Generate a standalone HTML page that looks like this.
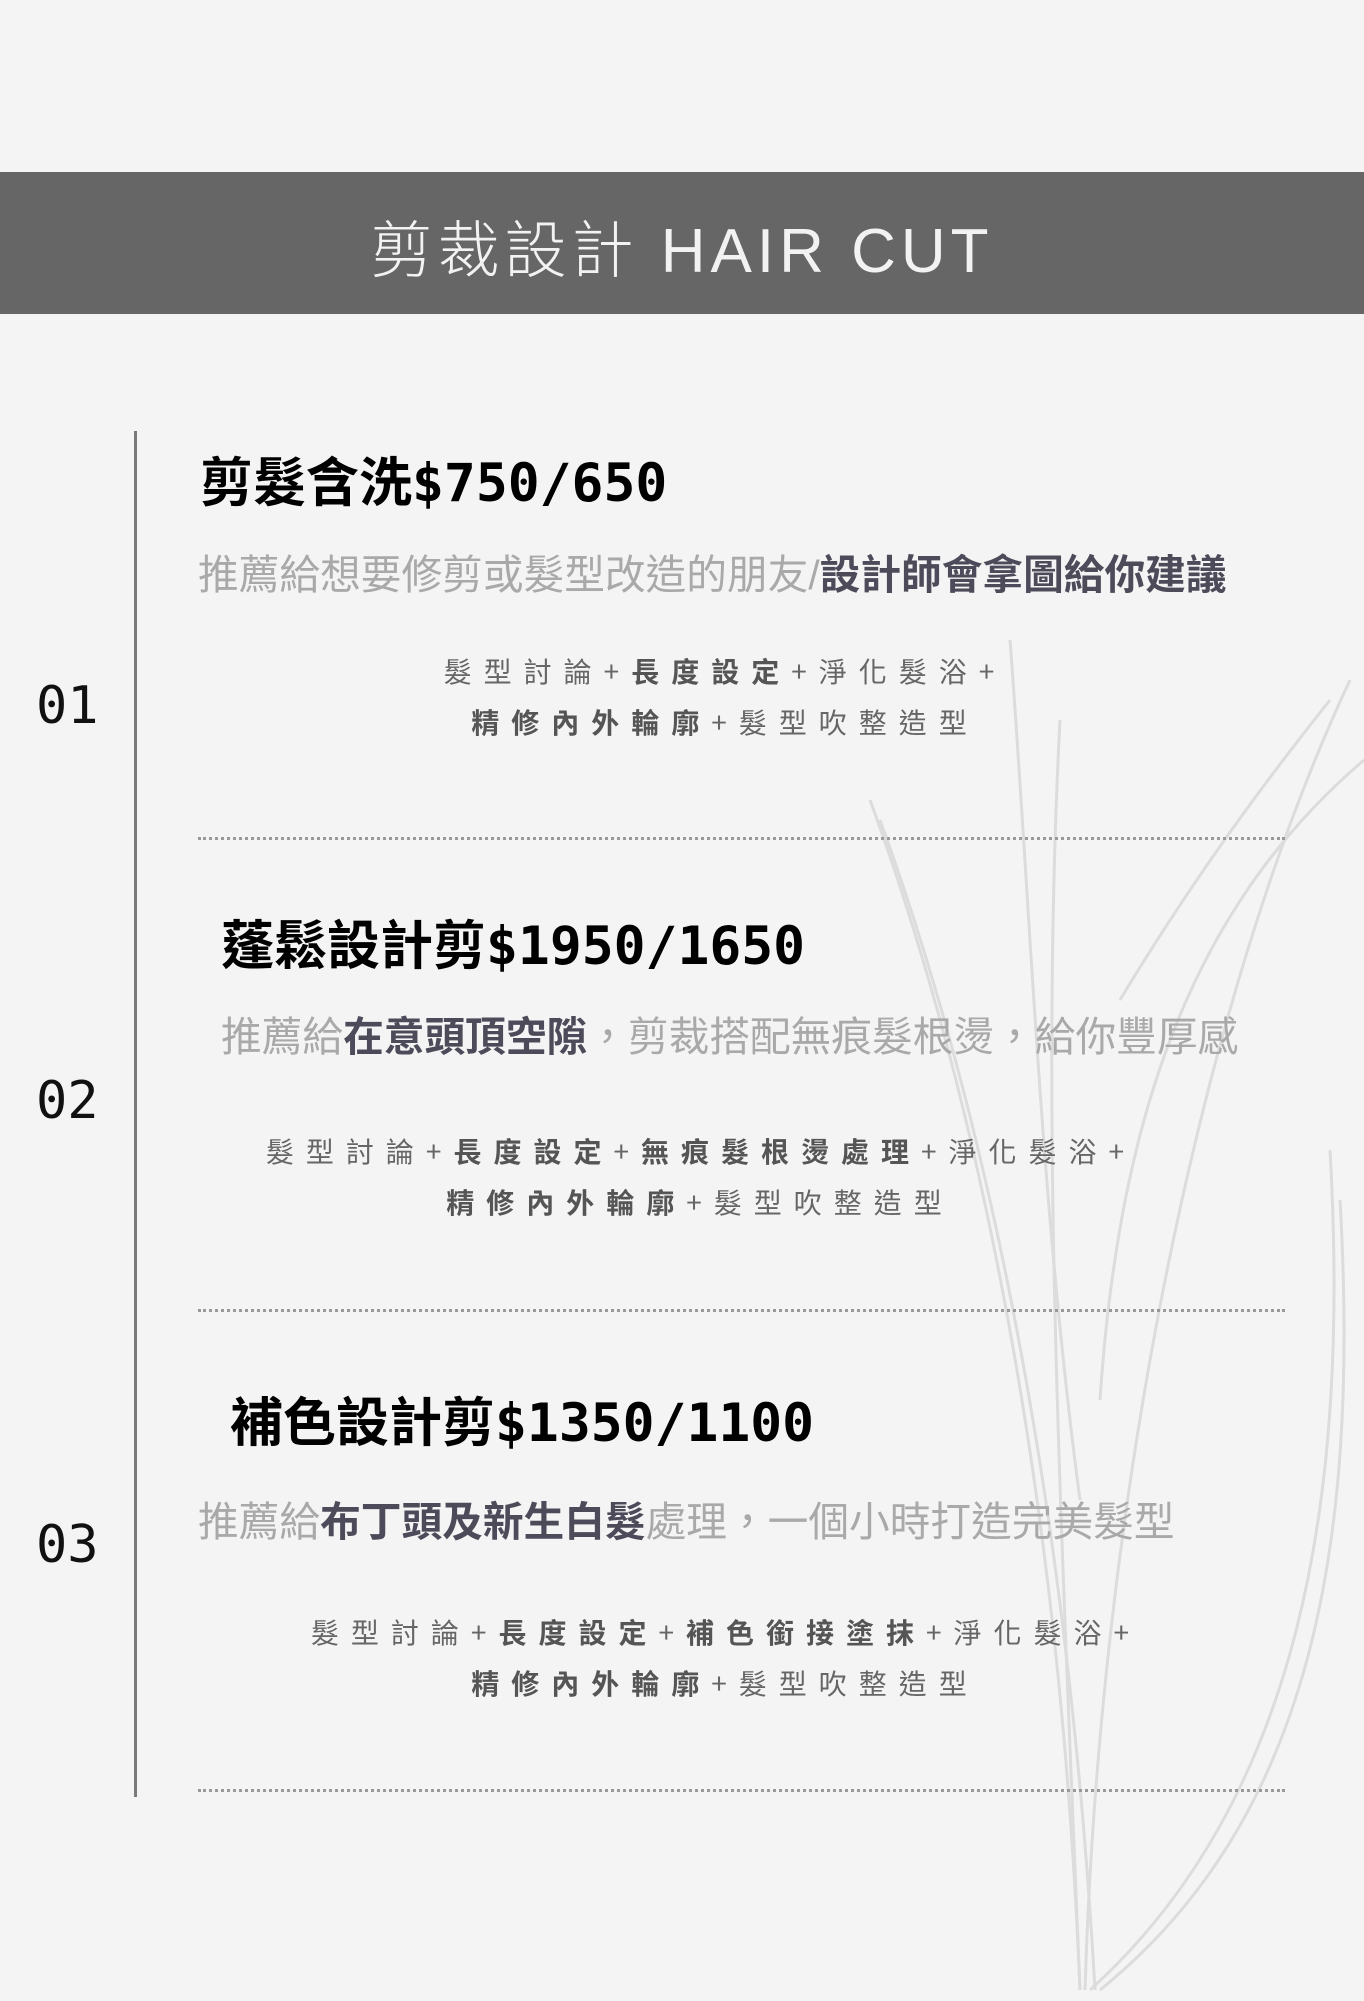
<!DOCTYPE html>
<html><head><meta charset="utf-8">
<style>
html,body{margin:0;padding:0}
body{width:1364px;height:2001px;background:#f4f4f4;position:relative;overflow:hidden;font-family:"Liberation Sans","Noto Sans CJK TC",sans-serif}
.hdr{position:absolute;left:0;top:172px;width:1364px;height:142px;background:#676667}
.hdr div{position:absolute;left:0;right:0;top:43px;text-align:center;color:#f2f2f2;font-size:62px;letter-spacing:5px;font-family:"Liberation Sans","Noto Sans CJK TC",sans-serif;font-weight:300;line-height:74px}
.vl{position:absolute;left:134px;top:431px;width:3px;height:1366px;background:#7a7a7a}
.num{position:absolute;left:36px;font-family:"DejaVu Sans Mono",monospace;font-size:52px;color:#111;line-height:60px}
.t{position:absolute;font-family:"DejaVu Sans Mono","Noto Sans CJK TC",monospace;font-weight:bold;font-size:53px;color:#000;line-height:60px;white-space:nowrap}
.t span{font-family:"Noto Sans CJK TC",sans-serif}
.s{position:absolute;font-family:"Liberation Sans","Noto Sans CJK TC",sans-serif;font-size:40.7px;color:#a9a9a9;line-height:50px;white-space:nowrap;letter-spacing:0}
.s b{color:#4d4b5a}
.d{position:absolute;width:900px;text-align:center;font-family:"Noto Sans CJK TC",sans-serif;font-size:28px;color:#666;letter-spacing:12px;line-height:36px;white-space:nowrap}
.d b{color:#555}
.dot{position:absolute;left:198px;width:1087px;border-top:3px dotted #999}
</style></head><body>
<svg style="position:absolute;left:0;top:0" width="1364" height="2001">
<g fill="none" stroke="#dcdcdc" stroke-width="3">
<path d="M870 800 C 980 1100, 1060 1500, 1080 1990"/>
<path d="M880 820 C 1000 1150, 1070 1550, 1095 1990"/>
<path d="M1060 720 C 1040 1100, 1060 1500, 1080 1990"/>
<path d="M1350 680 C 1200 1000, 1100 1500, 1085 1990"/>
<path d="M1330 1150 C 1350 1500, 1300 1800, 1090 1990"/>
<path d="M1340 1200 C 1360 1550, 1310 1820, 1100 1990"/>
<path d="M1364 760 C 1200 900, 1120 1100, 1100 1400"/>
<path d="M1330 700 C 1250 800, 1180 900, 1120 1000"/>
<path d="M1010 640 C 1030 900, 1040 1200, 1080 1500"/>
</g></svg>
<div class="hdr"><div>剪裁設計 HAIR CUT</div></div>
<div class="vl"></div>

<div class="t" style="left:200px;top:449px"><span>剪髮含洗</span>$750/650</div>
<div class="s" style="left:198px;top:550px">推薦給想要修剪或髮型改造的朋友/<b>設計師會拿圖給你建議</b></div>
<div class="d" style="left:275px;top:653px">髮型討論+<b>長度設定</b>+淨化髮浴+</div>
<div class="d" style="left:275px;top:704px"><b>精修內外輪廓</b>+髮型吹整造型</div>
<div class="num" style="top:676px">01</div>
<div class="dot" style="top:837px"></div>

<div class="t" style="left:221px;top:912px"><span>蓬鬆設計剪</span>$1950/1650</div>
<div class="s" style="left:221px;top:1012px">推薦給<b>在意頭頂空隙</b>，剪裁搭配無痕髮根燙，給你豐厚感</div>
<div class="d" style="left:251px;top:1133px">髮型討論+<b>長度設定</b>+<b>無痕髮根燙處理</b>+淨化髮浴+</div>
<div class="d" style="left:250px;top:1184px"><b>精修內外輪廓</b>+髮型吹整造型</div>
<div class="num" style="top:1071px">02</div>
<div class="dot" style="top:1309px"></div>

<div class="t" style="left:230px;top:1389px"><span>補色設計剪</span>$1350/1100</div>
<div class="s" style="left:198px;top:1497px">推薦給<b>布丁頭及新生白髮</b>處理，一個小時打造完美髮型</div>
<div class="d" style="left:276px;top:1614px">髮型討論+<b>長度設定</b>+<b>補色銜接塗抹</b>+淨化髮浴+</div>
<div class="d" style="left:275px;top:1665px"><b>精修內外輪廓</b>+髮型吹整造型</div>
<div class="num" style="top:1515px">03</div>
<div class="dot" style="top:1789px"></div>
</body></html>
